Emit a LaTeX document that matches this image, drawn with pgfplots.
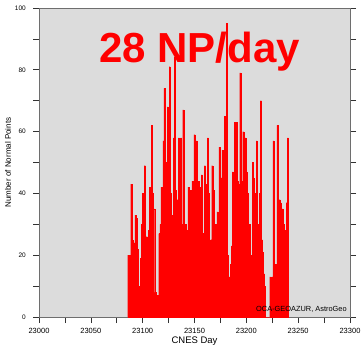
\documentclass[border=0pt]{standalone}
\usepackage{pgfplots}
\pgfplotsset{compat=1.18}
\usepackage{fontspec}
\setmainfont{Liberation Sans}
\definecolor{bgray}{RGB}{220,220,220}
\definecolor{axgray}{RGB}{110,110,110}
\begin{document}
\begin{tikzpicture}[x=1pt,y=1pt]
\path[use as bounding box] (-39pt,-28pt) rectangle (322pt,317pt);
\begin{axis}[
  at={(0pt,0pt)}, anchor=south west,
  scale only axis, width=311pt, height=309pt,
  xmin=23000, xmax=23300, ymin=0, ymax=100,
  axis background/.style={fill=bgray},
  axis line style={draw=axgray, line width=0.9pt},
  xtick={23000,23050,...,23300},
  minor xtick={23025,23075,...,23275},
  ytick={0,20,...,100},
  minor ytick={10,30,...,90},
  xtick pos=bottom, ytick pos=both,
  yticklabel pos=left,
  tick align=outside,
  major tick length=6pt, minor tick length=6pt,
  tick style={draw=black!80, line width=0.6pt},
  /pgf/number format/assume math mode=true,
  scaled x ticks=false,
  xticklabel={\pgfmathprintnumber[fixed,1000 sep=]{\tick}},
  xticklabel style={font=\fontsize{7.5}{8}\selectfont, inner sep=0pt, anchor=north, yshift=-5pt},
  yticklabel style={font=\fontsize{6.5}{7}\selectfont, inner sep=0pt, anchor=east, xshift=-7pt},
  xlabel={CNES Day},
  xlabel style={font=\fontsize{9.5}{10}\selectfont, at={(axis description cs:0.5,0)}, anchor=north, inner sep=0pt, yshift=-20pt},
  ylabel={Number of Normal Points},
  ylabel style={font=\fontsize{8}{9}\selectfont, at={(axis description cs:-0.1,0.5)}, anchor=center, inner sep=0pt},
  clip=true,
]
\addplot[ybar, bar width=1, fill=red, draw=red, line width=0.15pt] coordinates {
(23086,20)(23087,20)(23088,10)(23089,43)(23090,25)(23091,0)(23092,24)(23093,33)(23094,32)(23095,22)
(23096,10)(23097,7)(23098,19)(23099,30)(23100,40)(23101,34)(23102,49)(23103,26)(23104,26)(23105,25)
(23106,28)(23107,42)(23108,30)(23109,62)(23110,40)(23111,35)(23112,8)(23113,7)(23114,6)(23115,7)
(23116,27)(23117,30)(23118,42)(23119,29)(23120,57)(23121,74)(23122,44)(23123,50)(23124,68)(23125,35)
(23126,81)(23127,40)(23128,29)(23129,33)(23130,58)(23131,84)(23132,41)(23133,38)(23134,38)(23135,58)
(23136,45)(23137,58)(23138,30)(23139,67)(23140,28)(23141,30)(23142,28)(23143,0)(23144,42)(23145,41)
(23146,35)(23147,41)(23148,44)(23149,30)(23150,59)(23151,45)(23152,57)(23153,39)(23154,44)(23155,42)
(23156,42)(23157,46)(23158,27)(23159,27)(23160,49)(23161,30)(23162,43)(23163,58)(23164,40)(23165,21)
(23166,25)(23167,49)(23168,41)(23169,18)(23170,30)(23171,21)(23172,34)(23173,28)(23174,55)(23175,40)
(23176,45)(23177,54)(23178,35)(23179,65)(23180,50)(23181,95)(23182,20)(23183,0)(23184,13)(23185,17)
(23186,23)(23187,47)(23188,30)(23189,63)(23190,62)(23191,63)(23192,44)(23193,43)(23194,79)(23195,44)
(23196,41)(23197,60)(23198,55)(23199,58)(23200,47)(23201,40)(23202,21)(23203,30)(23204,12)(23205,20)
(23206,50)(23207,45)(23208,32)(23209,40)(23210,57)(23211,30)(23212,21)(23213,40)(23214,70)(23215,25)
(23216,21)(23217,14)(23218,10)(23219,0)(23220,0)(23221,0)(23222,0)(23223,13)(23224,10)(23225,13)
(23226,57)(23227,10)(23228,17)(23229,16)(23230,62)(23231,20)(23232,38)(23233,37)(23234,32)(23235,35)
(23236,30)(23237,28)(23238,25)(23239,37)(23240,58)
};
\node[anchor=base, text=red, inner sep=0pt, font=\fontsize{42}{44}\bfseries] at (axis cs:23155,82.5) {28 NP/day};
\node[anchor=base east, inner sep=0pt, font=\fontsize{7.4}{8}\selectfont] at (axis cs:23297,1.9) {OCA-GEOAZUR, AstroGeo};
\end{axis}
\end{tikzpicture}
\end{document}
